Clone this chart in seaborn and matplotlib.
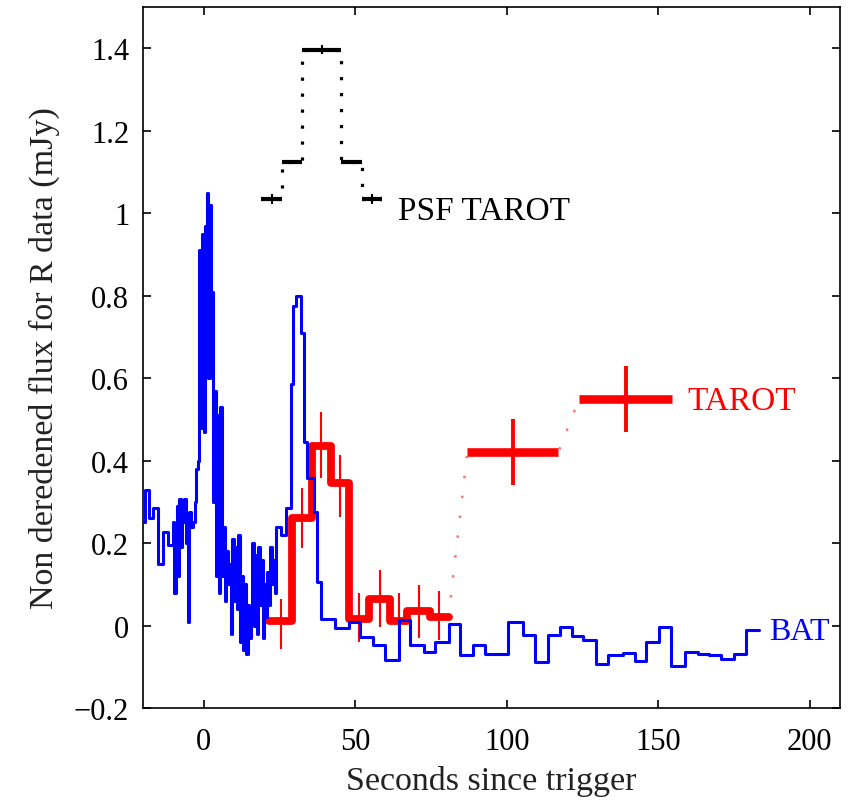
import matplotlib
matplotlib.use("Agg")
import matplotlib.pyplot as plt
import seaborn as sns

# BAT light curve: left bin edges (s) and flux (last edge closes the last bin)
bat_t = [-20.1, -19.5, -17.9, -16.8, -15.1, -13.5, -11.8, -10.2, -9.7, -9.1,
         -8.7, -8.4, -8.0, -7.5, -7.0, -6.4, -5.8, -5.3, -4.7, -4.1,
         -3.6, -3.0, -2.5,
         -2.0, -1.5, -1.0, -0.5, 0.0, 0.5, 1.0, 1.5, 2.0, 2.5,
         3.0, 3.5, 4.0, 4.5, 5.0, 5.5, 6.0, 6.5, 7.0, 7.5,
         8.0, 8.5, 9.0, 9.5, 10.0, 10.5, 11.0, 11.5, 12.0, 12.5,
         13.0, 13.5, 14.0, 14.5, 15.0, 15.5, 16.0, 16.5, 17.0, 17.5,
         18.0, 18.5, 19.0, 19.5, 20.0, 20.5, 21.0, 21.5, 22.0, 22.5,
         23.0, 23.5,
         24.0, 25.5, 27.1, 28.7, 29.6, 30.4, 32.0, 33.1, 34.2, 36.4,
         37.5, 38.6, 43.5, 47.9, 51.7, 56.0, 59.9, 64.3, 68.2, 72.6,
         76.4, 80.8, 84.6, 89.0, 92.9, 100.5, 105.5, 109.3, 113.7, 117.5,
         121.4, 125.2, 129.6, 133.4, 138.4, 142.2, 146.1, 150.4, 154.3, 158.7,
         163.0, 166.9, 170.7, 175.1, 178.9, 183.3]
bat_v = [0.252, 0.328, 0.260, 0.284, 0.150, 0.227, 0.195, 0.252, 0.078, 0.200,
         0.290, 0.120, 0.308, 0.190, 0.250, 0.308, 0.200, 0.009, 0.276, 0.240,
         0.250, 0.300, 0.380,
         0.40, 0.91, 0.48, 0.95, 0.47, 0.97, 1.05, 0.60, 1.02, 0.81,
         0.30, 0.57, 0.12, 0.51, 0.08, 0.53, 0.12, 0.24, 0.06, 0.18,
         0.10, 0.15, -0.02, 0.21, 0.06, 0.19, 0.04, 0.22, -0.04, 0.12,
         -0.06, 0.10, -0.07, 0.05, -0.03, 0.04, 0.20, 0.00, 0.17, -0.02,
         0.19, 0.05, 0.16, -0.03, 0.10, 0.02, 0.13, 0.05, 0.19, 0.10,
         0.16, 0.08,
         0.24, 0.22, 0.285, 0.585, 0.775, 0.80, 0.71, 0.445, 0.357, 0.276,
         0.106, 0.017, -0.007, 0.009, -0.027, -0.048, -0.084, 0.013, -0.048, -0.064,
         -0.040, 0.005, -0.072, -0.048, -0.068, 0.009, -0.023, -0.088, -0.023, -0.003,
         -0.025, -0.036, -0.092, -0.072, -0.066, -0.087, -0.041, -0.003, -0.098, -0.064,
         -0.068, -0.072, -0.080, -0.068, -0.011]
assert len(bat_t) == len(bat_v) + 1

# TAROT early photometry (bin edges, flux, error down / up)
tarot_edges = [21.5, 29.3, 35.8, 41.9, 48.0, 54.5, 61.6, 67.0, 74.8, 80.8]
tarot_flux = [0.010, 0.260, 0.435, 0.345, 0.015, 0.065, 0.010, 0.035, 0.020]
tarot_err_lo = [0.066, 0.073, 0.078, 0.081, 0.055, 0.068, 0.066, 0.066, 0.056]
tarot_err_hi = [0.055, 0.073, 0.084, 0.068, 0.063, 0.069, 0.068, 0.063, 0.064]

# TAROT late points (centre, half width, flux, error)
late_t = [102.0, 139.3]
late_dt = [15.0, 15.4]
late_flux = [0.420, 0.549]
late_err = [0.080, 0.080]

# PSF TAROT photometry (bin edges, flux, error)
psf_edges = [18.9, 26.0, 32.6, 45.4, 52.3, 58.9]
psf_flux = [1.035, 1.125, 1.397, 1.125, 1.035]
psf_err = [0.012, 0.004, 0.012, 0.004, 0.012]

xticks = [0, 50, 100, 150, 200]
yticks = [-0.2, 0, 0.2, 0.4, 0.6, 0.8, 1.0, 1.2, 1.4]
ytick_labels = ["\u22120.2", "0", "0.2", "0.4", "0.6", "0.8", "1", "1.2", "1.4"]

sns.set_theme(style="ticks")
plt.rcParams["font.family"] = ["Liberation Serif", "DejaVu Serif"]

fig = plt.figure(figsize=(8.58, 8.03), dpi=100)
ax = fig.add_axes([0.1667, 0.117, 0.8124, 0.873])

# PSF TAROT: dotted stairs + solid bars
sns.lineplot(x=psf_edges, y=psf_flux + [psf_flux[-1]], ax=ax, color="black",
             linewidth=2.3, linestyle=(0, (1, 4)), drawstyle="steps-post",
             estimator=None, sort=False, zorder=2)
psf_mid = [(a + b) / 2 for a, b in zip(psf_edges[:-1], psf_edges[1:])]
psf_half = [(b - a) / 2 for a, b in zip(psf_edges[:-1], psf_edges[1:])]
ax.errorbar(psf_mid, psf_flux, xerr=psf_half, fmt="none", ecolor="black",
            elinewidth=3, capsize=0, zorder=3)
ax.errorbar(psf_mid, psf_flux, yerr=psf_err, fmt="none", ecolor="black",
            elinewidth=1.5, capsize=0, zorder=3)

# TAROT early: thick red stairs with thin error bars
sns.lineplot(x=tarot_edges, y=tarot_flux + [tarot_flux[-1]], ax=ax, color="#ff0000",
             linewidth=5.6, drawstyle="steps-post", estimator=None, sort=False,
             zorder=3)
tarot_mid = [(a + b) / 2 for a, b in zip(tarot_edges[:-1], tarot_edges[1:])]
ax.errorbar(tarot_mid, tarot_flux, yerr=[tarot_err_lo, tarot_err_hi], fmt="none",
            ecolor="#ff0000", elinewidth=1.5, capsize=0, zorder=3)

# dotted link to the late points
link_x = [tarot_edges[-1], late_t[0] - late_dt[0], late_t[0] + late_dt[0], late_t[1] - late_dt[1]]
link_y = [tarot_flux[-1], late_flux[0], late_flux[0], late_flux[1]]
sns.lineplot(x=link_x, y=link_y, ax=ax, color="#ff0000", alpha=0.55, linewidth=1.8,
             linestyle=(0, (1, 7)), estimator=None, sort=False, zorder=2)
ax.errorbar(late_t, late_flux, xerr=late_dt, fmt="none", ecolor="#ff0000",
            elinewidth=6.2, capsize=0, zorder=3)
ax.errorbar(late_t, late_flux, yerr=late_err, fmt="none", ecolor="#ff0000",
            elinewidth=2.8, capsize=0, zorder=3)

# BAT on top
sns.lineplot(x=bat_t, y=bat_v + [bat_v[-1]], ax=ax, color="#0000ff", linewidth=2.2,
             drawstyle="steps-post", estimator=None, sort=False, zorder=4)

ax.text(64.2, 1.007, "PSF TAROT", color="black", fontsize=24, va="center", ha="left")
ax.text(159.6, 0.546, "TAROT", color="#ff0000", fontsize=24, va="center", ha="left")
ax.text(186.6, -0.015, "BAT", color="#0000ff", fontsize=23, va="center", ha="left")

ax.set_xlim(-20, 210)
ax.set_ylim(-0.2, 1.5)
ax.set_xticks(xticks)
ax.set_yticks(yticks)
ax.set_yticklabels(ytick_labels)
ax.tick_params(direction="in", top=True, right=True, length=6, width=1.2,
               labelsize=22, colors="black")
ax.tick_params(axis="x", pad=14)
ax.tick_params(axis="y", pad=10)
for sp in ax.spines.values():
    sp.set_visible(True)
    sp.set_color("black")
    sp.set_linewidth(1.2)

ax.set_xlabel("Seconds since trigger", fontsize=24.5, color="#222222", labelpad=6)
ax.set_ylabel("Non deredened flux for R data (mJy)", fontsize=24.5, color="#222222",
              labelpad=10)

fig.savefig("out.png", dpi=100)
